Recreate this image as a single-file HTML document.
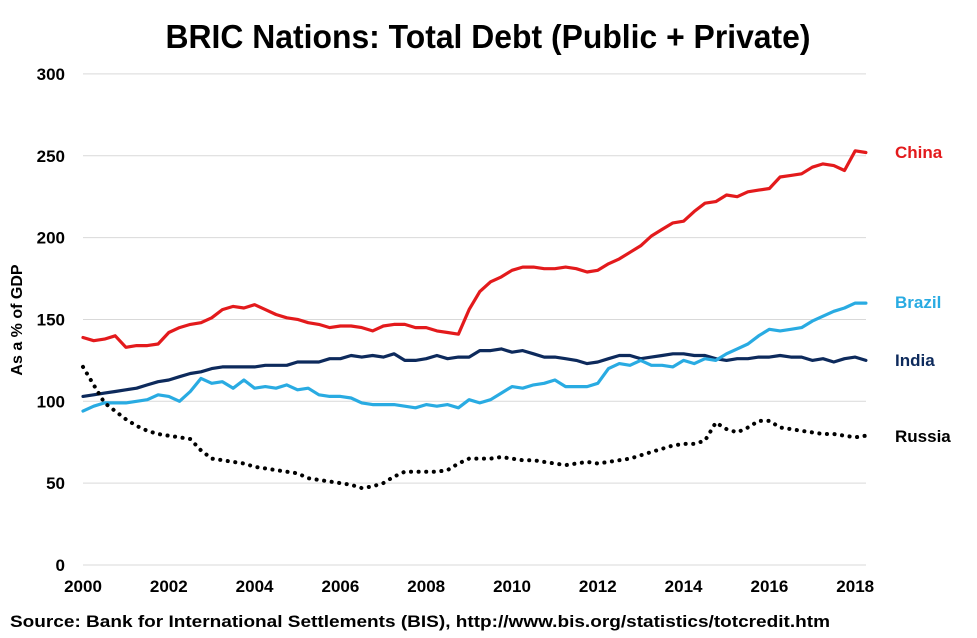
<!DOCTYPE html>
<html><head><meta charset="utf-8"><style>
body{margin:0;background:#fff;}
svg{display:block;font-family:"Liberation Sans",Arial,sans-serif;}
</style></head><body>
<svg id="chart" width="977" height="638">
<text x="488" y="48" text-anchor="middle" font-size="33" font-weight="bold" fill="#000" textLength="645" lengthAdjust="spacingAndGlyphs">BRIC Nations: Total Debt (Public + Private)</text>
<text transform="translate(22,320) rotate(-90)" text-anchor="middle" font-size="16" font-weight="bold">As a % of GDP</text>
<text x="10" y="627" font-size="17" font-weight="bold" textLength="820" lengthAdjust="spacingAndGlyphs">Source: Bank for International Settlements (BIS), http://www.bis.org/statistics/totcredit.htm</text>
<g id="grid"></g><g id="ticks"></g><g id="lines"></g><g id="labels"></g>
</svg>
<script>
const yTicks=[0,50,100,150,200,250,300];
const xTicks=[2000,2002,2004,2006,2008,2010,2012,2014,2016,2018];
const china=[139,137,138,140,133,134,134,135,142,145,147,148,151,156,158,157,159,156,153,151,150,148,147,145,146,146,145,143,146,147,147,145,145,143,142,141,156,167,173,176,180,182,182,181,181,182,181,179,180,184,187,191,195,201,205,209,210,216,221,222,226,225,228,229,230,237,238,239,243,245,244,241,253,252];
const india=[103,104,105,106,107,108,110,112,113,115,117,118,120,121,121,121,121,122,122,122,124,124,124,126,126,128,127,128,127,129,125,125,126,128,126,127,127,131,131,132,130,131,129,127,127,126,125,123,124,126,128,128,126,127,128,129,129,128,128,126,125,126,126,127,127,128,127,127,125,126,124,126,127,125];
const brazil=[94,97,99,99,99,100,101,104,103,100,106,114,111,112,108,113,108,109,108,110,107,108,104,103,103,102,99,98,98,98,97,96,98,97,98,96,101,99,101,105,109,108,110,111,113,109,109,109,111,120,123,122,125,122,122,121,125,123,126,125,129,132,135,140,144,143,144,145,149,152,155,157,160,160];
const russia=[121,110,99,94,89,85,82,80,79,78,77,70,65,64,63,62,60,59,58,57,56,53,52,51,50,49,47,48,50,54,57,57,57,57,58,62,65,65,65,66,65,64,64,63,62,61,62,63,62,63,64,65,67,69,71,73,74,74,76,87,83,81,84,88,88,84,83,82,81,80,80,79,78,79];
const NS='http://www.w3.org/2000/svg';
const X=t=>83+(t-2000)*42.9;
const Y=v=>565-v*1.637;
function mk(tag,attrs,parent){const e=document.createElementNS(NS,tag);for(const k in attrs)e.setAttribute(k,attrs[k]);document.getElementById(parent).appendChild(e);return e;}
yTicks.forEach(v=>{
 if(v>0){const g=mk('line',{x1:83,x2:866,y1:Y(v),y2:Y(v),stroke:'#d9d9d9','stroke-width':1},'grid');
 
 }
 const t=mk('text',{x:65,y:Y(v)+6,'text-anchor':'end','font-size':17,'font-weight':'bold'},'ticks');t.textContent=v;
 
 
});
const ax=mk('line',{x1:83,x2:866,y1:565,y2:565,stroke:'#d9d9d9','stroke-width':1},'grid');


xTicks.forEach(y=>{const t=mk('text',{x:X(y),y:592,'text-anchor':'middle','font-size':17,'font-weight':'bold'},'ticks');t.textContent=y;
 
 });
function pts(a){return a.map((v,i)=>X(2000+i*0.25).toFixed(1)+','+Y(v).toFixed(1)).join(' ');}
const series=[['china',china,'#e31a1c',null],['india',india,'#0d2a5c',null],['brazil',brazil,'#29abe2',null],['russia',russia,'#000','0.1 7.5']];
series.forEach(s=>{const a={points:pts(s[1]),fill:'none',stroke:s[2],'stroke-width':s[3]?4:3.2,'stroke-linejoin':'round','stroke-linecap':'round'};if(s[3])a['stroke-dasharray']=s[3];
 const p=mk('polyline',a,'lines');
 
 });
const labs=[['China',158,'#e31a1c'],['Brazil',308,'#29abe2'],['India',366,'#0d2a5c'],['Russia',442,'#000']];
labs.forEach(l=>{const t=mk('text',{x:895,y:l[1],'font-size':17,'font-weight':'bold',fill:l[2]},'labels');t.textContent=l[0];
 
 });
</script>
</body></html>
